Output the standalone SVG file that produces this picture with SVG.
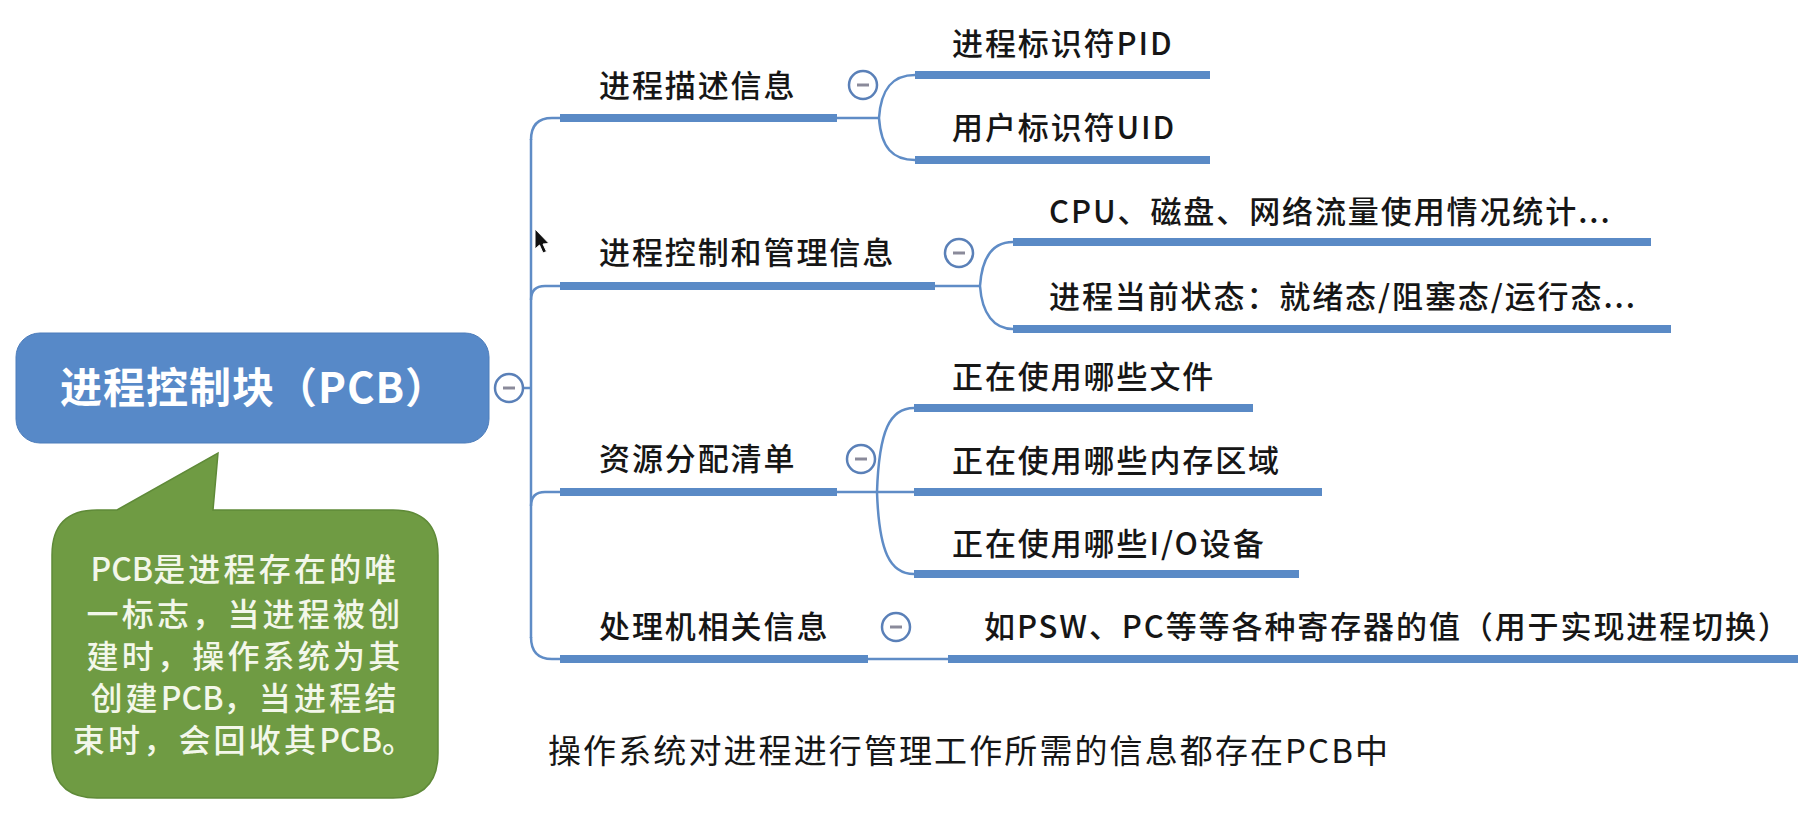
<svg xmlns="http://www.w3.org/2000/svg" width="1798" height="824" viewBox="0 0 1798 824">
<style>
.bg{fill:#ffffff}
.bar{stroke:#5a8ac6;stroke-width:8;stroke-linecap:butt;fill:none}
.con{stroke:#5f8cc6;stroke-width:2.5;fill:none}
.lbl{font-family:"Noto Sans CJK SC","Noto Sans",sans-serif;font-size:31px;letter-spacing:1.9px;fill:#161616;font-weight:500}
.root{font-family:"Noto Sans CJK SC","Noto Sans",sans-serif;font-size:42px;font-weight:bold;fill:#ffffff;letter-spacing:1px}
.note{font-family:"Noto Sans CJK SC","Noto Sans",sans-serif;font-size:32px;letter-spacing:3.2px;fill:#f3f7ea;font-weight:500}
.lat{letter-spacing:0px}
.foot{font-family:"Noto Sans CJK SC","Noto Sans",sans-serif;font-size:33px;letter-spacing:2.1px;fill:#161616}
.tog circle{fill:#ffffff;stroke:#5a80b8;stroke-width:2.5}
.tog line{stroke:#8a8a9a;stroke-width:3}
</style>
<defs>
<g id="toggle" class="tog"><circle cx="0" cy="0" r="14"/><line x1="-6" y1="0" x2="6" y2="0"/></g>
</defs>
<rect class="bg" x="0" y="0" width="1798" height="824"/>

<g id="connectors">
<path class="con" d="M523,388 L531,388"/>
<path class="con" d="M531,139 L531,638"/>
<path class="con" d="M531,140 Q531,118 552,118 L560,118"/>
<path class="con" d="M531,300 Q531,286 545,286 L560,286"/>
<path class="con" d="M531,506 Q531,492 545,492 L560,492"/>
<path class="con" d="M531,637 Q531,659 552,659 L560,659"/>
<path class="con" d="M837,118 L879,118"/>
<path class="con" d="M879,118 C881,88 893,75 915,75"/>
<path class="con" d="M879,118 C881,148 893,160 915,160"/>
<path class="con" d="M935,286 L980,286"/>
<path class="con" d="M980,286 C982,256 994,242 1013,242"/>
<path class="con" d="M980,286 C982,314 994,329 1013,329"/>
<path class="con" d="M837,492 L914,492"/>
<path class="con" d="M877,492 C879,430 890,408 914,408"/>
<path class="con" d="M877,492 C879,552 890,574 914,574"/>
<path class="con" d="M868,659 L948,659"/>
</g>

<g id="root">
<rect x="16" y="333" width="473" height="110" rx="24" fill="#5789c8" stroke="#4d7dbb" stroke-width="1"/>
<text class="root" x="254" y="403" text-anchor="middle">进程控制块（PCB）</text>
<use href="#toggle" x="509" y="388"/>
</g>

<g id="note">
<path d="M97,510 L117,510 L218,453 L213,510 L393,510 Q438,510 438,555 L438,753 Q438,798 393,798 L97,798 Q52,798 52,753 L52,555 Q52,510 97,510 Z" fill="#6f9b43" stroke="#5f8a38" stroke-width="1.5"/>
<text class="note" x="245" y="581" text-anchor="middle"><tspan class="lat">PCB</tspan>是进程存在的唯</text>
<text class="note" x="245" y="626" text-anchor="middle">一标志，当进程被创</text>
<text class="note" x="245" y="668" text-anchor="middle">建时，操作系统为其</text>
<text class="note" x="245" y="710" text-anchor="middle">创建<tspan class="lat">PCB</tspan>，当进程结</text>
<text class="note" x="245" y="752" text-anchor="middle">束时，会回收其<tspan class="lat">PCB</tspan>。</text>
</g>

<g id="b1">
<line class="bar" x1="560" y1="118" x2="837" y2="118"/>
<text class="lbl" x="599" y="97">进程描述信息</text>
<use href="#toggle" x="863" y="85"/>
</g>
<g id="b1c1">
<line class="bar" x1="915" y1="75" x2="1210" y2="75"/>
<text class="lbl" x="952" y="55">进程标识符PID</text>
</g>
<g id="b1c2">
<line class="bar" x1="915" y1="160" x2="1210" y2="160"/>
<text class="lbl" x="952" y="139">用户标识符UID</text>
</g>

<g id="b2">
<line class="bar" x1="560" y1="286" x2="935" y2="286"/>
<text class="lbl" x="599" y="264">进程控制和管理信息</text>
<use href="#toggle" x="959" y="253"/>
</g>
<g id="b2c1">
<line class="bar" x1="1013" y1="242" x2="1651" y2="242"/>
<text class="lbl" x="1049" y="223">CPU、磁盘、网络流量使用情况统计...</text>
</g>
<g id="b2c2">
<line class="bar" x1="1013" y1="329" x2="1671" y2="329"/>
<text class="lbl" x="1049" y="308">进程当前状态：就绪态/阻塞态/运行态...</text>
</g>

<g id="b3">
<line class="bar" x1="560" y1="492" x2="837" y2="492"/>
<text class="lbl" x="599" y="470">资源分配清单</text>
<use href="#toggle" x="861" y="459"/>
</g>
<g id="b3c1">
<line class="bar" x1="914" y1="408" x2="1253" y2="408"/>
<text class="lbl" x="952" y="388">正在使用哪些文件</text>
</g>
<g id="b3c2">
<line class="bar" x1="914" y1="492" x2="1322" y2="492"/>
<text class="lbl" x="952" y="472">正在使用哪些内存区域</text>
</g>
<g id="b3c3">
<line class="bar" x1="914" y1="574" x2="1299" y2="574"/>
<text class="lbl" x="952" y="555">正在使用哪些I/O设备</text>
</g>

<g id="b4">
<line class="bar" x1="560" y1="659" x2="868" y2="659"/>
<text class="lbl" x="599" y="638">处理机相关信息</text>
<use href="#toggle" x="896" y="627"/>
</g>
<g id="b4c1">
<line class="bar" x1="948" y1="659" x2="1798" y2="659"/>
<text class="lbl" x="984" y="638">如PSW、PC等等各种寄存器的值（用于实现进程切换）</text>
</g>

<g id="footnote">
<text class="foot" x="548" y="763">操作系统对进程进行管理工作所需的信息都存在PCB中</text>
</g>

<path d="M535,229 L535,249 L539.5,245 L543,253 L546.5,251.5 L543,244 L549,243.5 Z" fill="#111111" stroke="#ffffff" stroke-width="1"/>
</svg>
